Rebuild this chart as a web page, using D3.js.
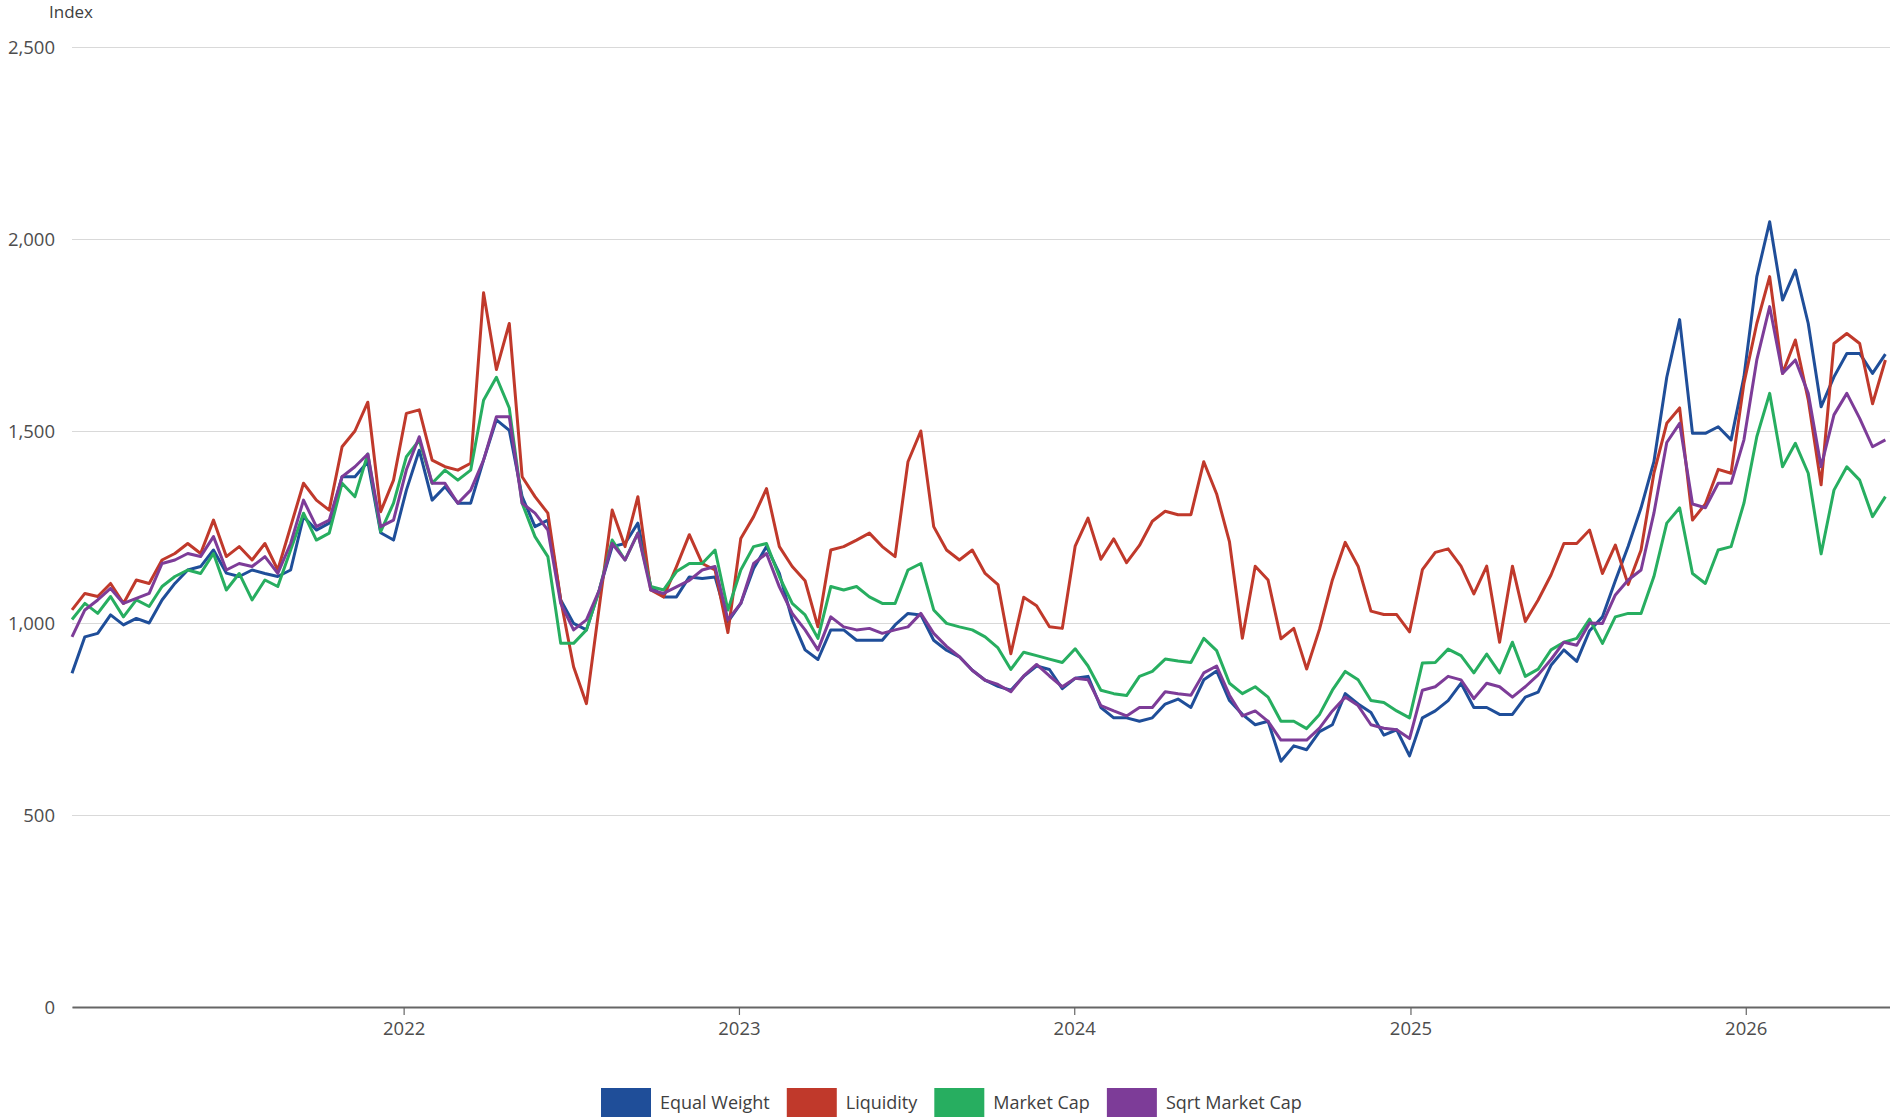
<!DOCTYPE html>
<html>
<head>
<meta charset="utf-8">
<script src="https://cdn.jsdelivr.net/npm/d3@7"></script>
<style>
	body { margin: 0; background: #fff; }
	svg { display: block; font-family: "Open Sans", sans-serif; }
	.grid line { stroke: #d9d9d9; stroke-width: 1; }
	.axis text { fill: #4d4d4d; font-size: 18.5px; font-family: "Open Sans", sans-serif; }
	.legend text { fill: #404040; font-size: 18px; font-family: "Open Sans", sans-serif; }
	.series { fill: none; stroke-width: 3; stroke-linejoin: round; }
</style>
</head>
<body>
<div id="chart"></div>
<script>
// one reading every 14 days, starting at START
const START = '2021-01-05';
const STEP_DAYS = 14;

const seriesNames = ['Equal Weight', 'Liquidity', 'Market Cap', 'Sqrt Market Cap'];

const equalWeight = [
	869, 964, 973, 1021, 995, 1012, 1000, 1060, 1103, 1138,
	1147, 1190, 1130, 1121, 1138, 1129, 1121, 1138, 1277, 1242,
	1260, 1381, 1381, 1420, 1235, 1216, 1346, 1450, 1320, 1355,
	1312, 1312, 1424, 1529, 1502, 1329, 1251, 1268, 1060, 999,
	982, 1086, 1199, 1207, 1260, 1095, 1068, 1068, 1120, 1116,
	1120, 1003, 1051, 1142, 1199, 1129, 1008, 930, 905, 982,
	982, 955, 955, 955, 995, 1025, 1021, 955, 929, 912,
	877, 851, 835, 825, 861, 888, 879, 829, 856, 861,
	780, 753, 753, 744, 753, 789, 802, 780, 852, 875,
	798, 762, 735, 744, 640, 680, 670, 717, 735, 816,
	789, 767, 708, 722, 654, 753, 771, 798, 843, 780,
	780, 762, 762, 807, 820, 890, 930, 900, 980, 1016,
	1110, 1200, 1300, 1420, 1640, 1790, 1494, 1494, 1511, 1477,
	1641, 1902, 2045, 1841, 1919, 1780, 1563, 1641, 1702, 1702,
	1650, 1700
];
const liquidity = [
	1034, 1077, 1069, 1103, 1051, 1112, 1103, 1164, 1181, 1207,
	1181, 1268, 1173, 1199, 1164, 1207, 1138, 1251, 1364, 1320,
	1294, 1459, 1500, 1575, 1290, 1372, 1546, 1555, 1424, 1407,
	1398, 1416, 1860, 1660, 1780, 1381, 1329, 1286, 1060, 886,
	790, 1043, 1294, 1199, 1329, 1086, 1068, 1147, 1230, 1155,
	1138, 975, 1220, 1277, 1350, 1199, 1147, 1110, 990, 1190,
	1199, 1216, 1234, 1199, 1173, 1420, 1500, 1251, 1190, 1164,
	1190, 1129, 1100, 920, 1067, 1045, 990, 986, 1200, 1273,
	1166, 1219, 1157, 1202, 1265, 1291, 1282, 1282, 1420, 1336,
	1211, 960, 1148, 1112, 959, 986, 880, 984, 1112, 1210,
	1148, 1031, 1022, 1022, 977, 1139, 1184, 1193, 1148, 1076,
	1148, 950, 1148, 1004, 1060, 1125, 1207, 1207, 1242, 1129,
	1203, 1100, 1190, 1390, 1520, 1560, 1268, 1310, 1400, 1390,
	1624, 1780, 1902, 1650, 1737, 1581, 1360, 1728, 1754, 1728,
	1571, 1685
];
const marketCap = [
	1009, 1051, 1025, 1069, 1016, 1060, 1043, 1095, 1121, 1138,
	1129, 1181, 1086, 1129, 1060, 1112, 1095, 1190, 1286, 1216,
	1234, 1364, 1329, 1440, 1238, 1312, 1433, 1476, 1364, 1398,
	1372, 1398, 1580, 1640, 1560, 1312, 1225, 1173, 947, 947,
	982, 1086, 1216, 1164, 1234, 1095, 1086, 1134, 1155, 1155,
	1190, 1034, 1138, 1199, 1207, 1121, 1051, 1021, 960, 1095,
	1086, 1095, 1068, 1051, 1051, 1138, 1155, 1034, 999, 990,
	982, 964, 935, 879, 924, 915, 906, 897, 933, 888,
	825, 816, 811, 861, 874, 906, 901, 897, 960, 928,
	843, 816, 834, 807, 744, 744, 725, 762, 825, 874,
	852, 798, 793, 771, 753, 896, 897, 932, 915, 870,
	919, 870, 950, 861, 880, 930, 950, 960, 1010, 947,
	1016, 1025, 1025, 1121, 1260, 1300, 1129, 1103, 1190, 1199,
	1312, 1485, 1598, 1407, 1468, 1390, 1180, 1346, 1407, 1372,
	1277, 1329
];
const sqrtMarketCap = [
	964, 1034, 1060, 1090, 1051, 1064, 1077, 1155, 1164, 1181,
	1173, 1225, 1138, 1155, 1147, 1173, 1129, 1207, 1320, 1251,
	1268, 1381, 1407, 1440, 1251, 1268, 1399, 1485, 1364, 1364,
	1312, 1346, 1424, 1537, 1537, 1312, 1286, 1242, 1051, 982,
	1008, 1086, 1207, 1164, 1234, 1086, 1077, 1094, 1111, 1138,
	1147, 1008, 1051, 1155, 1181, 1094, 1025, 982, 930, 1016,
	990, 982, 986, 973, 982, 990, 1025, 973, 939, 912,
	877, 851, 840, 821, 862, 892, 862, 834, 856, 852,
	785, 771, 758, 780, 780, 821, 816, 812, 870, 888,
	812, 758, 771, 744, 695, 695, 695, 726, 771, 807,
	785, 735, 726, 722, 699, 825, 834, 861, 852, 803,
	843, 834, 807, 834, 865, 905, 950, 942, 1000, 999,
	1073, 1112, 1138, 1286, 1470, 1520, 1310, 1300, 1364, 1364,
	1477, 1685, 1824, 1650, 1685, 1598, 1407, 1542, 1598, 1533,
	1459, 1477
];

const yTicks = [0, 500, 1000, 1500, 2000, 2500];
const xTickYears = [2022, 2023, 2024, 2025, 2026];
const X_END = '2026-06-07';

class IndexChart {
	constructor() {
		this.STYLE = {
			WIDTH: 1890,
			HEIGHT: 1118,
			LEFT: 72,
			RIGHT: 1890,
			TOP: 47,
			BOTTOM: 1007,
			COLORS: ['#1f4e99', '#c0392b', '#27ae60', '#7d3c98'],
			DOM_ID: '#chart'
		};
		const start = new Date(START + 'T00:00:00Z');
		this.dates = equalWeight.map((v, i) => d3.utcDay.offset(start, i * STEP_DAYS));
		this.series = [equalWeight, liquidity, marketCap, sqrtMarketCap];
	}

	build() {
		this.appendSvg();
		this.buildScales();
		this.addYAxis();
		this.addXAxis();
		this.addLines();
		this.addLegend();
	}

	appendSvg() {
		const { WIDTH, HEIGHT, DOM_ID } = this.STYLE;
		this.svg = d3.select(DOM_ID)
			.append('svg')
			.attr('width', WIDTH)
			.attr('height', HEIGHT);
	}

	buildScales() {
		const { LEFT, RIGHT, TOP, BOTTOM } = this.STYLE;
		this.x = d3.scaleUtc()
			.domain([this.dates[0], new Date(X_END + 'T00:00:00Z')])
			.range([LEFT, RIGHT]);
		this.y = d3.scaleLinear()
			.domain([0, 2500])
			.range([BOTTOM, TOP]);
	}

	addYAxis() {
		const { LEFT, RIGHT } = this.STYLE;
		const g = this.svg.append('g')
			.attr('class', 'axis grid')
			.attr('transform', 'translate(' + LEFT + ',0)')
			.call(d3.axisLeft(this.y)
				.tickValues(yTicks)
				.tickFormat(d3.format(','))
				.tickSize(-(RIGHT - LEFT))
				.tickPadding(17));
		g.select('.domain').remove();
		g.selectAll('.tick text').attr('dy', '0.34em');

		this.svg.append('text')
			.attr('class', 'axis')
			.attr('x', 49)
			.attr('y', 18)
			.style('font-size', '17px')
			.style('fill', '#404040')
			.text('Index');
	}

	addXAxis() {
		const { BOTTOM } = this.STYLE;
		const g = this.svg.append('g')
			.attr('class', 'axis')
			.attr('transform', 'translate(0,' + BOTTOM + ')')
			.call(d3.axisBottom(this.x)
				.tickValues(xTickYears.map(yr => new Date(Date.UTC(yr, 0, 1))))
				.tickFormat(d3.utcFormat('%Y'))
				.tickSize(8)
				.tickSizeOuter(0)
				.tickPadding(7));
		g.select('.domain').attr('stroke', '#666').attr('stroke-width', 2);
		g.selectAll('.tick line').attr('stroke', '#666').attr('stroke-width', 1.2);
	}

	addLines() {
		const { COLORS } = this.STYLE;
		const { x, y, dates } = this;
		const line = d3.line()
			.x((d, i) => x(dates[i]))
			.y(d => y(d));

		this.svg.append('g')
			.selectAll('path')
			.data(this.series)
			.enter()
			.append('path')
			.attr('class', 'series')
			.attr('stroke', (d, i) => COLORS[i])
			.attr('d', line);
	}

	addLegend() {
		const { COLORS } = this.STYLE;
		const legend = this.svg.append('g').attr('class', 'legend');
		let cx = 601;
		seriesNames.forEach((name, i) => {
			legend.append('rect')
				.attr('x', cx)
				.attr('y', 1088)
				.attr('width', 50)
				.attr('height', 29)
				.attr('fill', COLORS[i]);
			const t = legend.append('text')
				.attr('x', cx + 59)
				.attr('y', 1109)
				.text(name);
			cx += 59 + t.node().getComputedTextLength() + 17;
		});
	}
}

const chart = new IndexChart();
chart.build();
</script>
</body>
</html>
